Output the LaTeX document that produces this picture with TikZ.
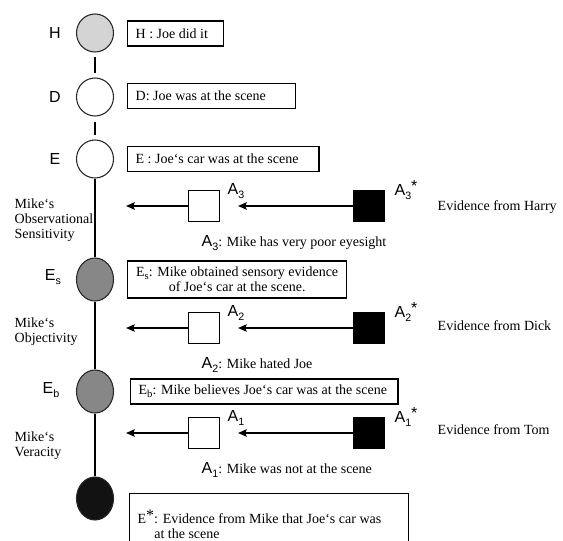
\documentclass[tikz,border=0pt]{standalone}
\usepackage{fontspec}
\setmainfont{Liberation Serif}
\newfontfamily\labelfont{Liberation Sans}
\usetikzlibrary{shapes.geometric,positioning,arrows.meta}

\newcommand{\lowidx}[1]{\raisebox{-0.5ex}{\footnotesize #1}}
\newcommand{\starmark}{\raisebox{0.55ex}{\large*}}

\tikzset{
    var/.style={ellipse, draw=black!85, line width=0.8pt, inner sep=0pt,
        minimum width=27.75pt, minimum height=28.5pt},
    tallvar/.style={var, minimum height=32.25pt},
    stmt/.style={draw, line width=1pt, anchor=west, inner xsep=6pt, inner ysep=2pt,
        minimum height=18.75pt, align=left, font=\fontsize{10.5}{11.5}\selectfont},
    letter/.style={font=\labelfont\fontsize{12}{14}\selectfont},
    factor/.style={anchor=west, align=left, font=\fontsize{10.5}{11.3}\selectfont},
    plain/.style={font=\fontsize{10.5}{12}\selectfont},
    ancil/.style={draw, line width=0.8pt, minimum size=23.25pt, inner sep=0pt},
}

\begin{document}
\begin{tikzpicture}[x=0.75pt, y=-0.75pt, >={Stealth[length=6.5pt,width=5.5pt,inset=1pt]}]
    \path[use as bounding box, clip] (0,0) rectangle (563,541);

    % chain of reasoning
    \node[var, fill=black!17] (H) at (95,33) {};
    \node[var] (D) at (95,97) {};
    \node[var] (E) at (95,159) {};
    \node[tallvar, fill=black!47] (Es) at (95,279.5) {};
    \node[tallvar, fill=black!47] (Eb) at (95,391.5) {};
    \node[tallvar, fill=black!93] (Estar) at (95,498.5) {};

    \draw[line width=0.8pt, shorten <=3.5pt, shorten >=3pt] (H) -- (D);
    \draw[line width=0.8pt, shorten <=4pt, shorten >=3pt] (D) -- (E);
    \draw[line width=0.8pt] (E) -- (Es);
    \draw[line width=0.8pt] (Es) -- (Eb);
    \draw[line width=0.8pt] (Eb) -- (Estar);

    \node[letter] (Hlab) at (55,33) {H};
    \node[letter] (Dlab) at (55,97) {D};
    \node[letter] (Elab) at (55,159) {E};
    \node[letter] (Eslab) at (53,277) {E\lowidx{s}};
    \node[letter] (Eblab) at (51,390) {E\lowidx{b}};

    % statements
    \node[stmt] (Hbox) at (127,33.5) {\makebox[60pt][l]{H : Joe did it}};
    \node[stmt] (Dbox) at (127,96) {\makebox[114pt][l]{D: Joe was at the scene}};
    \node[stmt] (Ebox) at (127,159) {\makebox[131.5pt][l]{E : Joe`s car was at the scene}};
    \node[stmt, align=center, minimum width=164.25pt, minimum height=27.75pt] (Esbox) at (127,279.5)
        {E\lowidx{s}: Mike obtained sensory evidence\\of Joe`s car at the scene.};
    \node[stmt] (Ebbox) at (130,391.5) {\makebox[188.5pt][l]{E\lowidx{b}: Mike believes Joe`s car was at the scene}};
    \node[stmt, anchor=north west, minimum height=46pt] (Estarbox) at (129,493)
        {\makebox[197pt][l]{E\starmark: Evidence from Mike that Joe`s car was}\\\hspace*{12.5pt}at the scene};

    % credibility attributes
    \node[factor] (sens) at (10,220) {Mike`s\\Observational\\Sensitivity};
    \node[factor] (obj) at (10,332) {Mike`s\\Objectivity};
    \node[factor] (ver) at (10,446) {Mike`s\\Veracity};

    % ancillary evidence, A3
    \node[ancil, fill=white] (A3) at (204,206) {};
    \node[ancil, fill=black] (A3s) at (369,206) {};
    \coordinate (A3end) at (126,206);
    \coordinate (A3tip) at (238,206);
    \draw[->, line width=1pt] (A3) -- (A3end);
    \draw[->, line width=1pt] (A3s) -- (A3tip);
    \node[letter] (A3lab) at (236,191) {A\lowidx{3}};
    \node[letter] (A3slab) at (406,190) {A\lowidx{3}\starmark};
    \node[plain, anchor=west] (Harry) at (433,207) {Evidence from Harry};
    \node[plain, anchor=west] (A3txt) at (197,243) {{\labelfont\large A\lowidx{3}}: Mike has very poor eyesight};

    % ancillary evidence, A2
    \node[ancil, fill=white] (A2) at (204,328) {};
    \node[ancil, fill=black] (A2s) at (369,328) {};
    \coordinate (A2end) at (126,328);
    \coordinate (A2tip) at (238,328);
    \draw[->, line width=1pt] (A2) -- (A2end);
    \draw[->, line width=1pt] (A2s) -- (A2tip);
    \node[letter] (A2lab) at (236,313) {A\lowidx{2}};
    \node[letter] (A2slab) at (406,312) {A\lowidx{2}\starmark};
    \node[plain, anchor=west] (Dick) at (433,326) {Evidence from Dick};
    \node[plain, anchor=west] (A2txt) at (197,365) {{\labelfont\large A\lowidx{2}}: Mike hated Joe};

    % ancillary evidence, A1
    \node[ancil, fill=white] (A1) at (204,433) {};
    \node[ancil, fill=black] (A1s) at (369,433) {};
    \coordinate (A1end) at (126,433);
    \coordinate (A1tip) at (238,433);
    \draw[->, line width=1pt] (A1) -- (A1end);
    \draw[->, line width=1pt] (A1s) -- (A1tip);
    \node[letter] (A1lab) at (236,418) {A\lowidx{1}};
    \node[letter] (A1slab) at (406,417) {A\lowidx{1}\starmark};
    \node[plain, anchor=west] (Tom) at (433,430) {Evidence from Tom};
    \node[plain, anchor=west] (A1txt) at (197,470) {{\labelfont\large A\lowidx{1}}: Mike was not at the scene};
\end{tikzpicture}
\end{document}
